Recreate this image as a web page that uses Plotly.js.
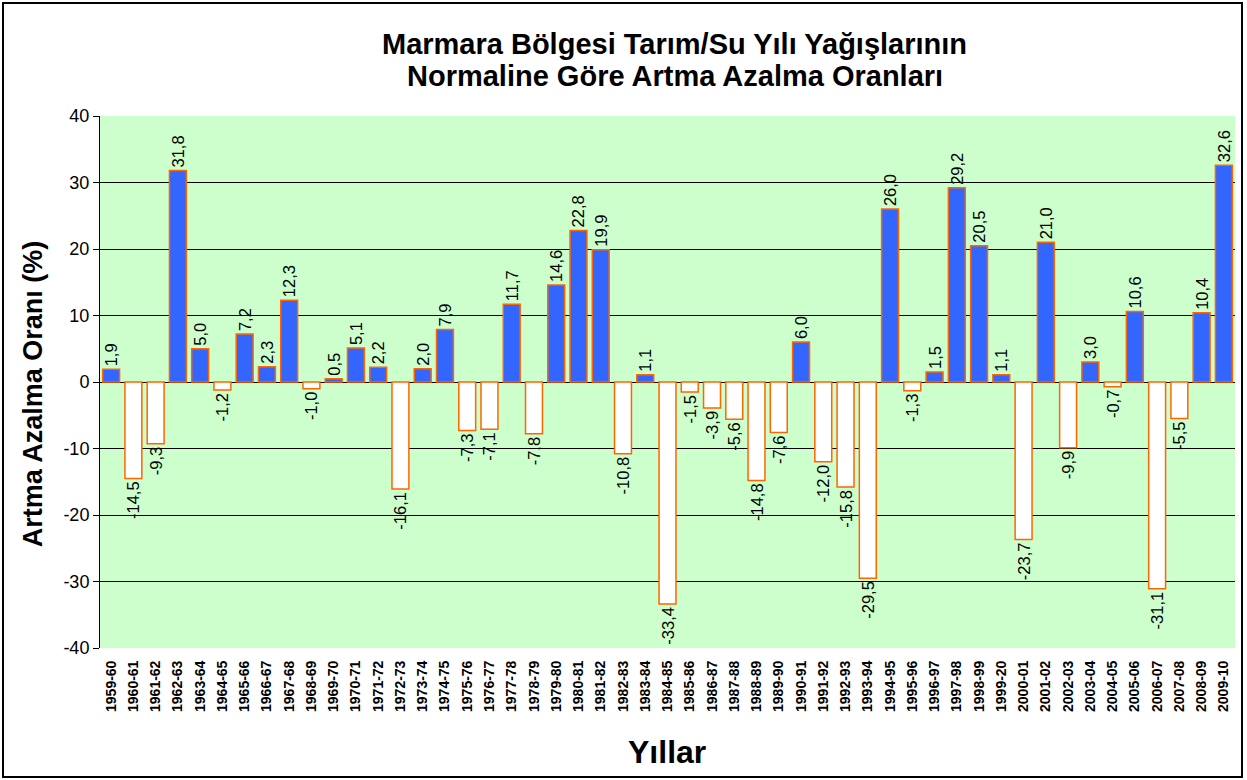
<!DOCTYPE html>
<html>
<head>
<meta charset="utf-8">
<script src="https://cdn.plot.ly/plotly-3.0.1.min.js"></script>
<style>
  html, body { margin: 0; padding: 0; background: #fff; }
  #chart { width: 1247px; height: 780px; position: relative; }
  #frame { position: absolute; left: 2px; top: 2px; width: 1237px; height: 772px; border: 2px solid #000; pointer-events: none; }
</style>
</head>
<body>
<div style="position:relative;width:1247px;height:780px;">
  <div id="chart"></div>
  <div id="frame"></div>
</div>
<script>
const years = ["1959-60","1960-61","1961-62","1962-63","1963-64","1964-65","1965-66","1966-67","1967-68","1968-69",
  "1969-70","1970-71","1971-72","1972-73","1973-74","1974-75","1975-76","1976-77","1977-78","1978-79",
  "1979-80","1980-81","1981-82","1982-83","1983-84","1984-85","1985-86","1986-87","1987-88","1988-89",
  "1989-90","1990-91","1991-92","1992-93","1993-94","1994-95","1995-96","1996-97","1997-98","1998-99",
  "1999-20","2000-01","2001-02","2002-03","2003-04","2004-05","2005-06","2006-07","2007-08","2008-09","2009-10"];
const values = [1.9,-14.5,-9.3,31.8,5.0,-1.2,7.2,2.3,12.3,-1.0,
  0.5,5.1,2.2,-16.1,2.0,7.9,-7.3,-7.1,11.7,-7.8,
  14.6,22.8,19.9,-10.8,1.1,-33.4,-1.5,-3.9,-5.6,-14.8,
  -7.6,6.0,-12.0,-15.8,-29.5,26.0,-1.3,1.5,29.2,20.5,
  1.1,-23.7,21.0,-9.9,3.0,-0.7,10.6,-31.1,-5.5,10.4,32.6];
const yTicks = [-40,-30,-20,-10,0,10,20,30,40];
const titleLines = ['Marmara Bölgesi Tarım/Su Yılı Yağışlarının', 'Normaline Göre Artma Azalma Oranları'];
const xTitle = 'Yıllar';
const yTitle = 'Artma Azalma Oranı (%)';

const fmt = v => v.toFixed(1).replace('.', ',');
const labels = values.map(fmt);
const fills = values.map(v => v >= 0 ? '#3366FF' : '#FFFFFF');

const FONT = 'Liberation Sans, Arial, sans-serif';

const trace = {
  type: 'bar',
  x: years,
  y: values,
  text: labels,
  textposition: 'outside',
  textangle: -90,
  constraintext: 'none',
  cliponaxis: false,
  textfont: { family: FONT, size: 16.5, color: '#000' },
  marker: { color: fills, line: { color: '#FF6600', width: 1.5 } },
  hoverinfo: 'x+y'
};

const layout = {
  width: 1247, height: 780,
  margin: { l: 100, r: 12, t: 116, b: 132 },
  paper_bgcolor: 'rgba(0,0,0,0)',
  plot_bgcolor: '#CCFFCC',
  bargap: 0.24,
  showlegend: false,
  font: { family: FONT, color: '#000' },
  xaxis: {
    type: 'category',
    tickangle: -90,
    tickfont: { family: FONT, size: 14, color: '#000', weight: 'bold' },
    showline: false,
    ticks: 'outside', ticklen: 6, tickcolor: 'rgba(0,0,0,0)',
    showgrid: false
  },
  yaxis: {
    range: [-40, 40],
    tickvals: yTicks,
    ticktext: yTicks.map(String),
    tickfont: { family: FONT, size: 18, color: '#000' },
    showline: true, linecolor: '#000', linewidth: 1,
    ticks: 'outside', ticklen: 6, tickcolor: '#000',
    showgrid: true, gridcolor: '#000', gridwidth: 1,
    zeroline: true, zerolinecolor: '#000', zerolinewidth: 1
  },
  annotations: [
    { text: '<b>' + titleLines[0] + '</b>', xref: 'paper', yref: 'paper', x: 0.5066, y: 1.135,
      xanchor: 'center', yanchor: 'middle', showarrow: false, font: { family: FONT, size: 29, color: '#000' } },
    { text: '<b>' + titleLines[1] + '</b>', xref: 'paper', yref: 'paper', x: 0.5066, y: 1.075,
      xanchor: 'center', yanchor: 'middle', showarrow: false, font: { family: FONT, size: 29, color: '#000' } },
    { text: '<b>' + yTitle + '</b>', xref: 'paper', yref: 'paper', x: -0.059, y: 0.477, textangle: -90,
      xanchor: 'center', yanchor: 'middle', showarrow: false, font: { family: FONT, size: 27, color: '#000' } },
    { text: '<b>' + xTitle + '</b>', xref: 'paper', yref: 'paper', x: 0.4996, y: -0.1955,
      xanchor: 'center', yanchor: 'middle', showarrow: false, font: { family: FONT, size: 32, color: '#000' } }
  ]
};

Plotly.newPlot('chart', [trace], layout, { displayModeBar: false, staticPlot: true });
</script>
</body>
</html>
